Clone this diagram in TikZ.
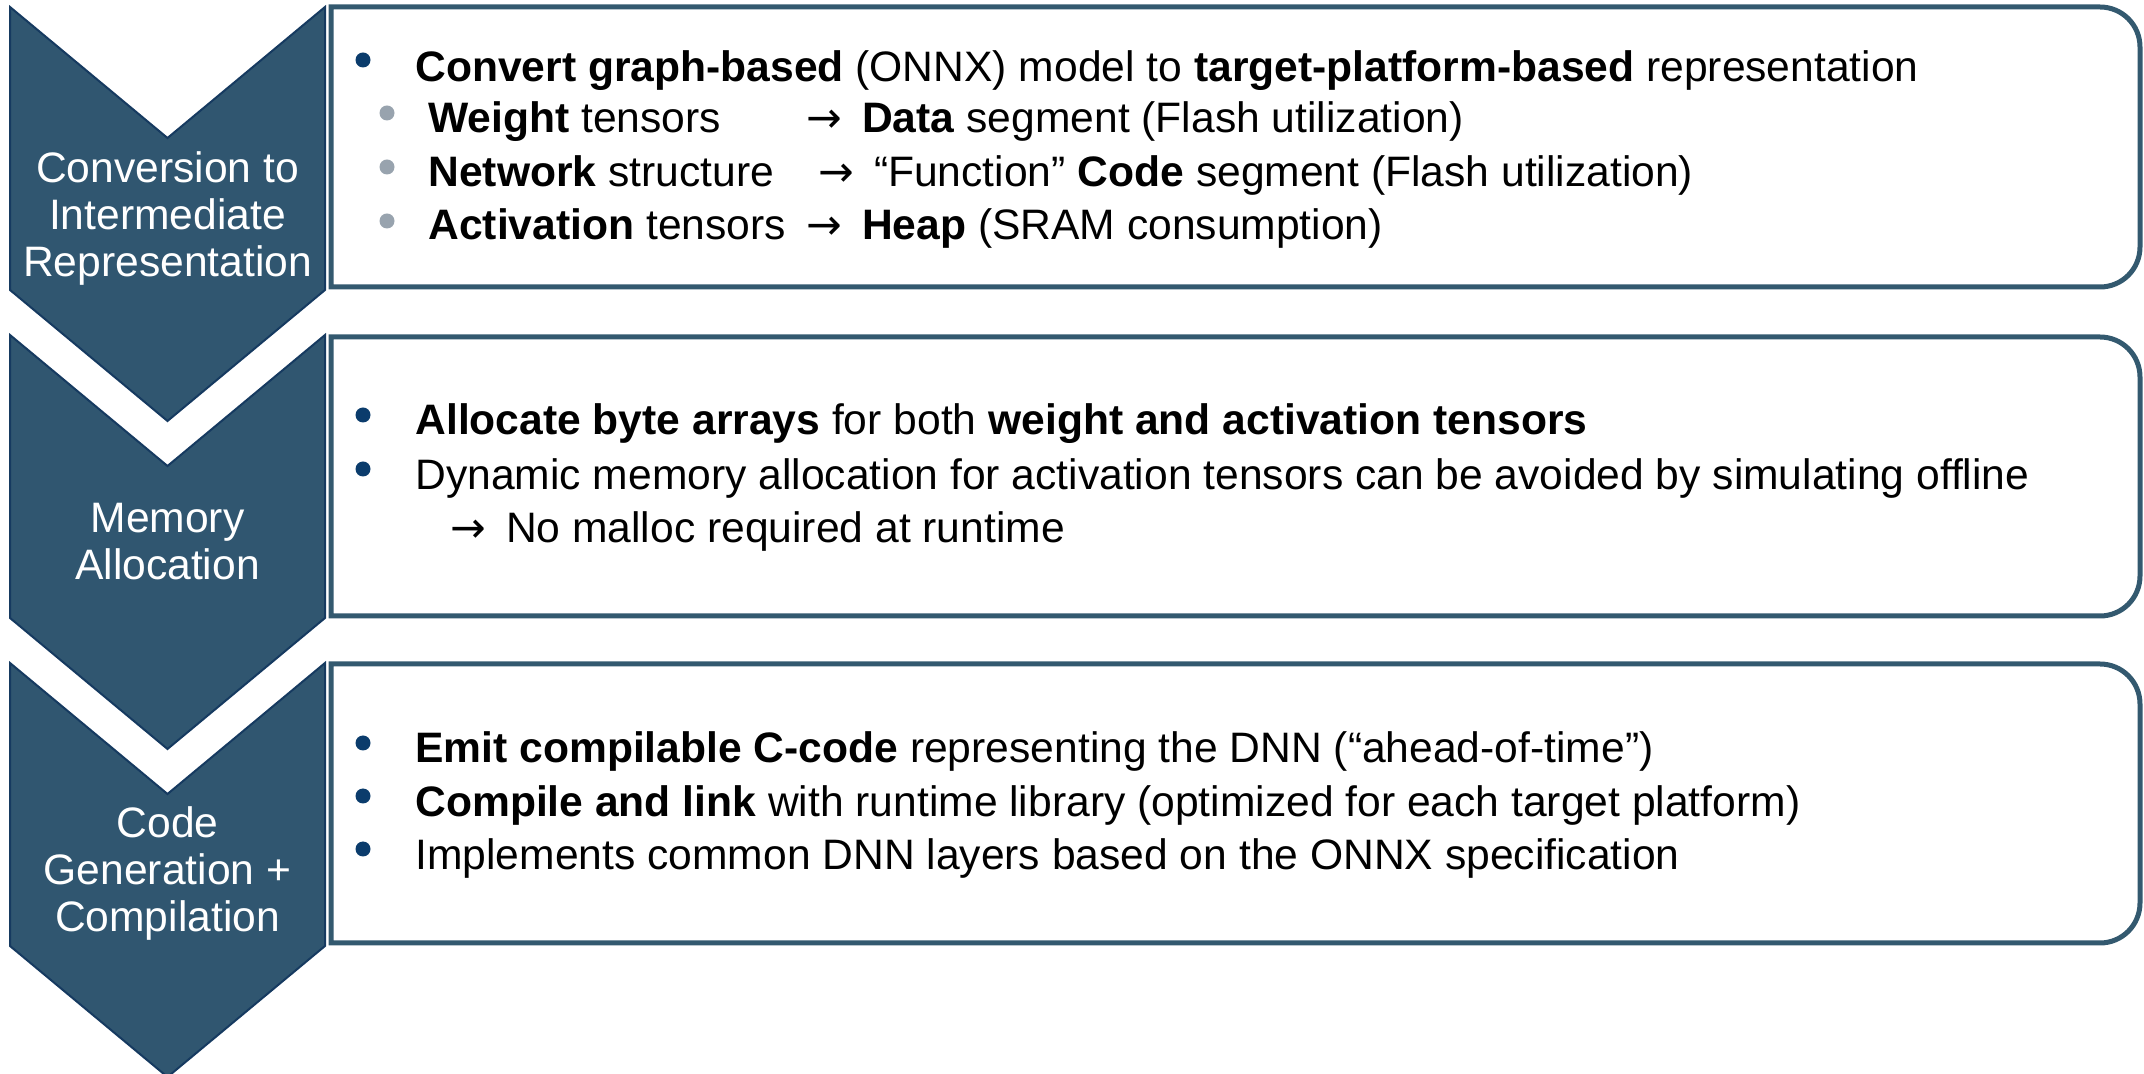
\documentclass[tikz,border=0pt]{standalone}
\usepackage{fontspec}
\setmainfont{Liberation Sans}
\newfontfamily\arrowfont{DejaVu Sans}
\newcommand{\toarrow}{{\arrowfont →}\hspace{10pt}}
\definecolor{stepfill}{HTML}{305670}
\definecolor{stepedge}{HTML}{163A60}
\definecolor{frameblue}{HTML}{33596F}
\definecolor{bulletblue}{HTML}{0B3C6C}
\definecolor{bulletgrey}{HTML}{98A3AE}
\tikzset{
  chev/.style={fill=stepfill, draw=stepedge, line width=1pt, line join=miter},
  panel/.style={draw=frameblue, line width=2.5pt, fill=white},
  steplabel/.style={text=white, align=center, inner sep=0pt,
    font=\fontsize{21.3}{23.5}\selectfont},
  txt/.style={anchor=base west, inner sep=0pt, font=\fontsize{21.3}{24}\selectfont},
  mainbul/.style={circle, fill=bulletblue, inner sep=0pt, minimum size=7.5pt},
  subbul/.style={circle, fill=bulletgrey, inner sep=0pt, minimum size=7.5pt},
}
\begin{document}
\begin{tikzpicture}[x=0.5pt, y=-0.5pt]
\useasboundingbox (0,0) rectangle (2144,1074);

% process chevrons
\foreach \t in {7,335,663} {
  \draw[chev] (10,\t) -- (167.5,{\t+131}) -- (325,\t) -- (325,{\t+283})
    -- (167.5,{\t+414}) -- (10,{\t+283}) -- cycle;
}

% text panels with rounded right corners
\foreach \t/\b in {7/287,337/616,664/943} {
  \draw[panel] (331,\t) -- (2100,\t)
    .. controls (2122.1,\t) and (2140,{\t+17.9}) .. (2140,{\t+40})
    -- (2140,{\b-40})
    .. controls (2140,{\b-17.9}) and (2122.1,\b) .. (2100,\b)
    -- (331,\b) -- cycle;
}

% step labels
\node[steplabel] (s1) at (167.5,218) {Conversion to\\Intermediate\\Representation};
\node[steplabel] (s2) at (167.5,542) {Memory\\Allocation};
\node[steplabel] (s3) at (167.5,873) {Code\\Generation +\\Compilation};

% panel 1
\node[mainbul] (b1) at (363,60) {};
\node[txt] (t1) at (415,82) {\textbf{Convert graph-based} (ONNX) model to \textbf{target-platform-based} representation};
\node[subbul] (b1a) at (387,113) {};
\node[subbul] (b1b) at (387,167) {};
\node[subbul] (b1c) at (387,221) {};
\node[txt] (t1a) at (428,133) {\textbf{Weight} tensors};
\node[txt] (t1b) at (428,187) {\textbf{Network} structure};
\node[txt] (t1c) at (428,240) {\textbf{Activation} tensors};
\node[txt] (r1a) at (806,133) {\toarrow\textbf{Data} segment (Flash utilization)};
\node[txt] (r1b) at (818,187) {\toarrow“Function” \textbf{Code} segment (Flash utilization)};
\node[txt] (r1c) at (806,240) {\toarrow\textbf{Heap} (SRAM consumption)};

% panel 2
\node[mainbul] (b2a) at (363,415) {};
\node[mainbul] (b2b) at (363,469) {};
\node[txt] (t2a) at (415,435) {\textbf{Allocate byte arrays} for both \textbf{weight and activation tensors}};
\node[txt] (t2b) at (415,490) {Dynamic memory allocation for activation tensors can be avoided by simulating offline};
\node[txt] (t2c) at (450,543) {\toarrow No malloc required at runtime};

% panel 3
\node[mainbul] (b3a) at (363,743) {};
\node[mainbul] (b3b) at (363,796) {};
\node[mainbul] (b3c) at (363,849) {};
\node[txt] (t3a) at (415,763) {\textbf{Emit compilable C-code} representing the DNN (“ahead-of-time”)};
\node[txt] (t3b) at (415,817) {\textbf{Compile and link} with runtime library (optimized for each target platform)};
\node[txt] (t3c) at (415,870) {Implements common DNN layers based on the ONNX specification};
\end{tikzpicture}
\end{document}
